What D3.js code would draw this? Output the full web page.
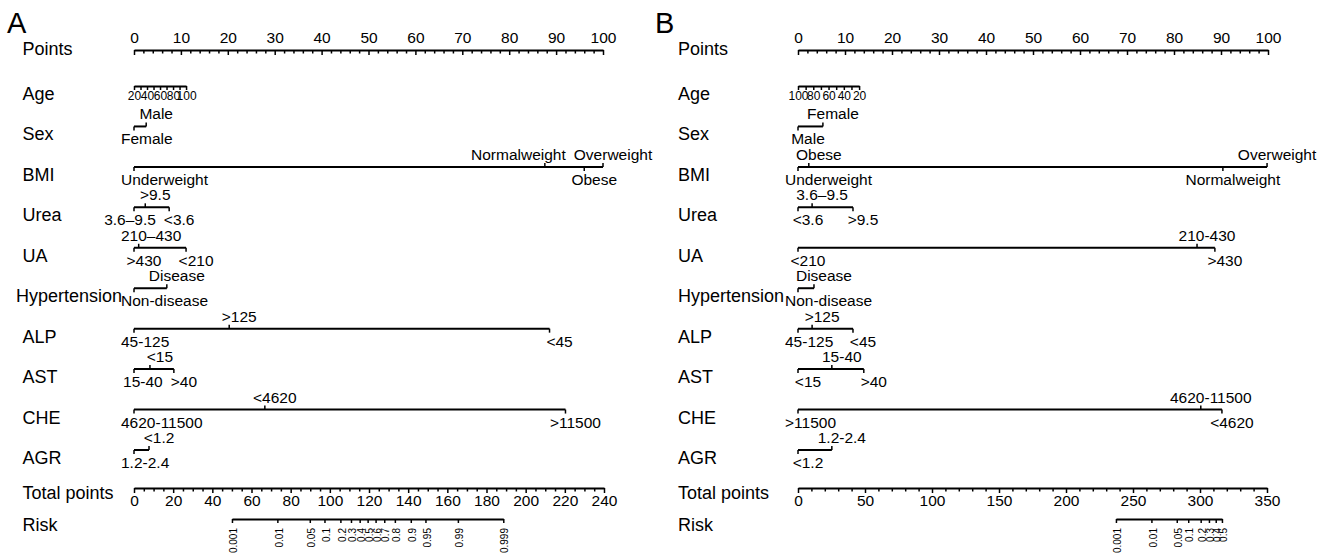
<!DOCTYPE html>
<html lang="en">
<head>
<meta charset="utf-8">
<title>nomogram</title>
<script src="https://d3js.org/d3.v7.min.js"></script>
<style>
  body { margin: 0; background: #fff; }
  text { font-family: "Liberation Sans", Arial, Helvetica, sans-serif; fill: #000; }
</style>
</head>
<body>
<svg width="1328" height="554"></svg>
<script>
// rows of the nomogram
var rowNames = ["Age", "Sex", "BMI", "Urea", "UA", "Hypertension", "ALP", "AST", "CHE", "AGR"];

// common scales
var pointTicks = [0, 10, 20, 30, 40, 50, 60, 70, 80, 90, 100];
var ageTicks = [20, 30, 40, 50, 60, 70, 80, 90, 100];

// ---- panel A ----
var ageLabelsA = [20, 40, 60, 80, 100];
var ageDomainA = [20, 100], agePointsA = [0, 11.1];
var sexA = [["Female", 0], ["Male", 2.6]];
var bmiA = [["Underweight", 0], ["Normalweight", 87.6], ["Obese", 96], ["Overweight", 100]];
var ureaA = [["3.6\u20139.5", 0], [">9.5", 2.4], ["<3.6", 7.5]];
var uaA = [[">430", 0], ["210\u2013430", 1], ["<210", 11.1]];
var hypA = [["Non-disease", 0], ["Disease", 7]];
var alpA = [["45-125", 0], [">125", 20.3], ["<45", 88.6]];
var astA = [["15-40", 0], ["<15", 3.4], [">40", 8.5]];
var cheA = [["4620-11500", 0], ["<4620", 27.9], [">11500", 92]];
var agrA = [["1.2-2.4", 0], ["<1.2", 3.2]];
var totalTicksA = [0, 20, 40, 60, 80, 100, 120, 140, 160, 180, 200, 220, 240];
var riskTicksA = [0.001, 0.01, 0.05, 0.1, 0.2, 0.3, 0.4, 0.5, 0.6, 0.7, 0.8, 0.9, 0.95, 0.99, 0.999];
var modelA = [-11.894, 0.0997];   // logit(risk) = b0 + b1 * total points

// ---- panel B ----
var ageLabelsB = [100, 80, 60, 40, 20];
var ageDomainB = [100, 20], agePointsB = [0, 13];
var sexB = [["Male", 0], ["Female", 5.3]];
var bmiB = [["Underweight", 0], ["Obese", 2.3], ["Normalweight", 90.4], ["Overweight", 99.8]];
var ureaB = [["<3.6", 0], ["3.6\u20139.5", 3], [">9.5", 11.7]];
var uaB = [["<210", 0], ["210-430", 84.9], [">430", 88.7]];
var hypB = [["Non-disease", 0], ["Disease", 3.4]];
var alpB = [["45-125", 0], [">125", 3], ["<45", 11.7]];
var astB = [["<15", 0], ["15-40", 7.2], [">40", 14]];
var cheB = [[">11500", 0], ["4620-11500", 85.7], ["<4620", 90.2]];
var agrB = [["<1.2", 0], ["1.2-2.4", 7.2]];
var totalTicksB = [0, 50, 100, 150, 200, 250, 300, 350];
var riskTicksB = [0.001, 0.01, 0.05, 0.1, 0.2, 0.3, 0.4, 0.5];
var modelB = [-27.62, 0.0873];

var svg = d3.select("svg");
var logit = function(p) { return Math.log(p / (1 - p)); };

function styleAxis(sel, size) {
  sel.attr("font-family", null).attr("font-size", size);
  sel.select(".domain").attr("stroke-width", 2);
  sel.selectAll(".tick line").attr("stroke-width", 1.5);
}

function panel(p) {
  var g = svg.append("g");
  var x = d3.scaleLinear().domain([0, 100]).range(p.pointsRange);
  var xt = d3.scaleLinear().domain([0, d3.max(p.totalTicks)]).range(p.totalRange);
  var y = d3.scalePoint().domain(rowNames).range([86, 450]);
  var yPoints = 50, yTotal = 488, yRisk = 519;

  g.append("text").attr("x", p.letterX).attr("y", 33).attr("font-size", 29).text(p.letter);

  // row labels
  function rowLabel(name, yy) {
    var t = g.append("text").attr("x", p.labelX).attr("y", yy).attr("font-size", 18).text(name);
    var w = t.node().getComputedTextLength();
    t.attr("x", Math.min(p.labelX, x(0) - 12 - w));
  }
  rowLabel("Points", yPoints + 5);
  rowNames.forEach(function(r) { rowLabel(r, y(r) + 14); });
  rowLabel("Total points", yTotal + 11);
  rowLabel("Risk", yRisk + 12);

  // points axis
  var minorPts = d3.range(0, 101, 2).filter(function(v) { return v % 10; });
  g.append("g").attr("transform", "translate(0," + yPoints + ")")
    .call(d3.axisTop(x).tickValues(pointTicks).tickSize(-5).tickSizeOuter(0).tickPadding(7))
    .call(styleAxis, 15.5);
  g.append("g").attr("transform", "translate(0," + yPoints + ")")
    .call(d3.axisTop(x).tickValues(minorPts).tickSize(-3.5).tickFormat(""))
    .call(function(s) { s.select(".domain").remove(); s.selectAll("line").attr("stroke-width", 1.5); });

  // age axis (continuous)
  var ageScale = d3.scaleLinear().domain(p.ageDomain).range(p.agePoints.map(x));
  g.append("g").attr("transform", "translate(0," + y("Age") + ")")
    .call(d3.axisBottom(ageScale).tickValues(ageTicks).tickSize(4).tickSizeOuter(0).tickPadding(1.5)
      .tickFormat(function(d) { return p.ageLabels.indexOf(d) >= 0 ? d : ""; }))
    .call(styleAxis, 12);

  // categorical rows
  var cats = {Sex: p.sex, BMI: p.bmi, Urea: p.urea, UA: p.ua, Hypertension: p.hyp,
              ALP: p.alp, AST: p.ast, CHE: p.che, AGR: p.agr};
  Object.keys(cats).forEach(function(name) {
    var lev = cats[name].slice().sort(function(a, b) { return a[1] - b[1]; });
    var yy = y(name);
    var row = g.append("g");
    row.append("line").attr("x1", x(lev[0][1])).attr("x2", x(lev[lev.length - 1][1]))
      .attr("y1", yy).attr("y2", yy).attr("stroke", "#000").attr("stroke-width", 2);
    var items = lev.map(function(l, i) {
      var below = i % 2 === 0;
      var tx = x(l[1]);
      row.append("line").attr("x1", tx).attr("x2", tx).attr("y1", yy)
        .attr("y2", below ? yy + 4 : yy - 4).attr("stroke", "#000").attr("stroke-width", 1.5);
      var t = row.append("text").attr("font-size", 15.5).attr("text-anchor", "middle")
        .attr("y", below ? yy + 18 : yy - 7).text(l[0]);
      var w = t.node().getComputedTextLength();
      var c = tx + 10;
      if (c - w / 2 < x(0) - 13) c = x(0) - 13 + w / 2;
      return {t: t, w: w, c: c, below: below};
    });
    [true, false].forEach(function(side) {
      var s = items.filter(function(d) { return d.below === side; });
      for (var i = s.length - 2; i >= 0; i--) {
        var lim = s[i + 1].c - s[i + 1].w / 2 - 8;
        if (s[i].c + s[i].w / 2 > lim) s[i].c = lim - s[i].w / 2;
      }
    });
    items.forEach(function(d) { d.t.attr("x", d.c); });
  });

  // total points axis
  var step = p.totalTicks[1] - p.totalTicks[0];
  var minorTot = d3.range(0, d3.max(p.totalTicks) + 0.1, p.totalMinor).filter(function(v) { return v % step; });
  g.append("g").attr("transform", "translate(0," + yTotal + ")")
    .call(d3.axisBottom(xt).tickValues(p.totalTicks).tickSize(5).tickSizeOuter(0).tickPadding(1.5))
    .call(styleAxis, 15.5);
  g.append("g").attr("transform", "translate(0," + yTotal + ")")
    .call(d3.axisBottom(xt).tickValues(minorTot).tickSize(3.5).tickFormat(""))
    .call(function(s) { s.select(".domain").remove(); s.selectAll("line").attr("stroke-width", 1.5); });

  // risk axis: logit(risk) is linear in total points
  var b0 = p.model[0], b1 = p.model[1];
  var rk = p.riskTicks.map(logit);
  var lo = d3.min(rk), hi = d3.max(rk);
  var riskScale = d3.scaleLinear().domain([lo, hi])
    .range([xt((lo - b0) / b1), xt((hi - b0) / b1)]);
  var ra = g.append("g").attr("transform", "translate(0," + yRisk + ")")
    .call(d3.axisBottom(riskScale).tickValues(rk).tickSize(4).tickSizeOuter(0)
      .tickFormat(function(d, i) { return p.riskTicks[i]; }))
    .call(styleAxis, 10);
  ra.selectAll(".tick text").attr("transform", "rotate(-90)").attr("text-anchor", "end")
    .attr("x", -9).attr("y", 1.5).attr("dy", "0.32em");
}

panel({letter: "A", letterX: 7, labelX: 22.5, pointsRange: [134, 603], totalRange: [134, 604],
  ageDomain: ageDomainA, agePoints: agePointsA, ageLabels: ageLabelsA,
  sex: sexA, bmi: bmiA, urea: ureaA, ua: uaA, hyp: hypA, alp: alpA, ast: astA, che: cheA, agr: agrA,
  totalTicks: totalTicksA, totalMinor: 5, riskTicks: riskTicksA, model: modelA});

panel({letter: "B", letterX: 655, labelX: 678, pointsRange: [798, 1268], totalRange: [798, 1267],
  ageDomain: ageDomainB, agePoints: agePointsB, ageLabels: ageLabelsB,
  sex: sexB, bmi: bmiB, urea: ureaB, ua: uaB, hyp: hypB, alp: alpB, ast: astB, che: cheB, agr: agrB,
  totalTicks: totalTicksB, totalMinor: 10, riskTicks: riskTicksB, model: modelB});
</script>
</body>
</html>
